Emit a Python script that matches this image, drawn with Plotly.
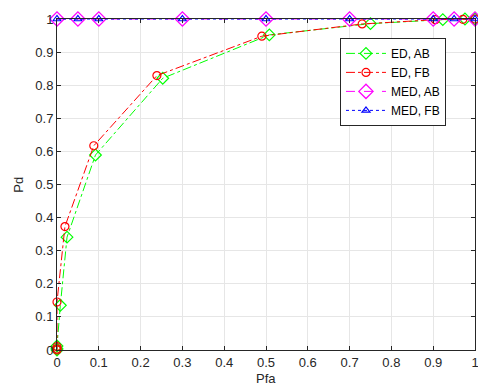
import plotly.graph_objects as go

# Data
ed_ab_pfa = [0, 0, 0, 0.008, 0.024, 0.092, 0.253, 0.508, 0.75, 0.923, 0.976, 1.0]
ed_ab_pd = [0, 0.004, 0.012, 0.135, 0.341, 0.589, 0.821, 0.952, 0.986, 0.998, 1.0, 1.0]
ed_fb_pfa = [0, 0, 0, 0, 0.019, 0.088, 0.239, 0.49, 0.73, 0.905, 0.971, 1.0]
ed_fb_pd = [0, 0.003, 0.01, 0.145, 0.373, 0.617, 0.829, 0.948, 0.985, 0.998, 0.999, 1.0]
med_pfa = [0, 0.05, 0.1, 0.3, 0.5, 0.7, 0.9, 0.95, 1.0]
med_ab_pd = [1, 1, 1, 1, 1, 1, 1, 1, 1]
med_fb_pd = [1, 1, 1, 1, 1, 1, 1, 1, 1]
ticks = [0, 0.1, 0.2, 0.3, 0.4, 0.5, 0.6, 0.7, 0.8, 0.9, 1]
tick_labels = ["0", "0.1", "0.2", "0.3", "0.4", "0.5", "0.6", "0.7", "0.8", "0.9", "1"]

FONT = "Liberation Sans, Arial"

fig = go.Figure()
fig.add_trace(go.Scatter(x=ed_ab_pfa, y=ed_ab_pd, name="ED, AB", mode="lines+markers",
                         line=dict(color="#00FF00", dash="dashdot", width=1),
                         marker=dict(symbol="diamond-open", size=9, color="#00FF00", line=dict(width=1.2)),
                         cliponaxis=False))
fig.add_trace(go.Scatter(x=ed_fb_pfa, y=ed_fb_pd, name="ED, FB", mode="lines+markers",
                         line=dict(color="#FF0000", dash="dashdot", width=1),
                         marker=dict(symbol="circle-open", size=8, color="#FF0000", line=dict(width=1.2)),
                         cliponaxis=False))
fig.add_trace(go.Scatter(x=med_pfa, y=med_ab_pd, name="MED, AB", mode="lines+markers",
                         line=dict(color="#FF00FF", dash="dash", width=1),
                         marker=dict(symbol="diamond-open", size=11, color="#FF00FF", line=dict(width=1.3)),
                         cliponaxis=False))
fig.add_trace(go.Scatter(x=med_pfa, y=med_fb_pd, name="MED, FB", mode="lines+markers",
                         line=dict(color="#0000FF", dash="dot", width=1),
                         marker=dict(symbol="triangle-up-open", size=7, color="#0000FF", line=dict(width=1.2)),
                         cliponaxis=False))

axis_common = dict(range=[0, 1], tickvals=ticks, ticktext=tick_labels, showgrid=True,
                   gridcolor="#e6e6e6", gridwidth=1, showline=True, linecolor="#262626",
                   linewidth=1, mirror="ticks", ticks="inside", ticklen=4, tickcolor="#262626",
                   zeroline=False, automargin=False, ticklabeloverflow="allow",
                   tickfont=dict(family=FONT, size=13, color="#262626"))

fig.update_layout(
    width=478, height=392,
    margin=dict(l=57, r=3, t=19, b=42),
    paper_bgcolor="white", plot_bgcolor="white",
    xaxis=dict(**axis_common),
    yaxis=dict(**axis_common),
    legend=dict(x=0.677, y=0.81, xanchor="left", yanchor="middle", bgcolor="white",
                bordercolor="#262626", borderwidth=1,
                font=dict(family=FONT, size=12, color="#000000"),
                tracegroupgap=0, itemwidth=40),
    showlegend=True,
    annotations=[
        dict(text="Pfa", xref="paper", yref="paper", x=0.5, y=-0.085, xanchor="center",
             yanchor="middle", showarrow=False, font=dict(family=FONT, size=13, color="#262626")),
        dict(text="Pd", xref="paper", yref="paper", x=-0.093, y=0.5, xanchor="center",
             yanchor="middle", textangle=-90, showarrow=False,
             font=dict(family=FONT, size=13, color="#262626")),
    ],
)

fig.write_html("out.html", config={"displayModeBar": False},
               post_script="document.body.style.margin='0';document.body.style.overflow='hidden';")
